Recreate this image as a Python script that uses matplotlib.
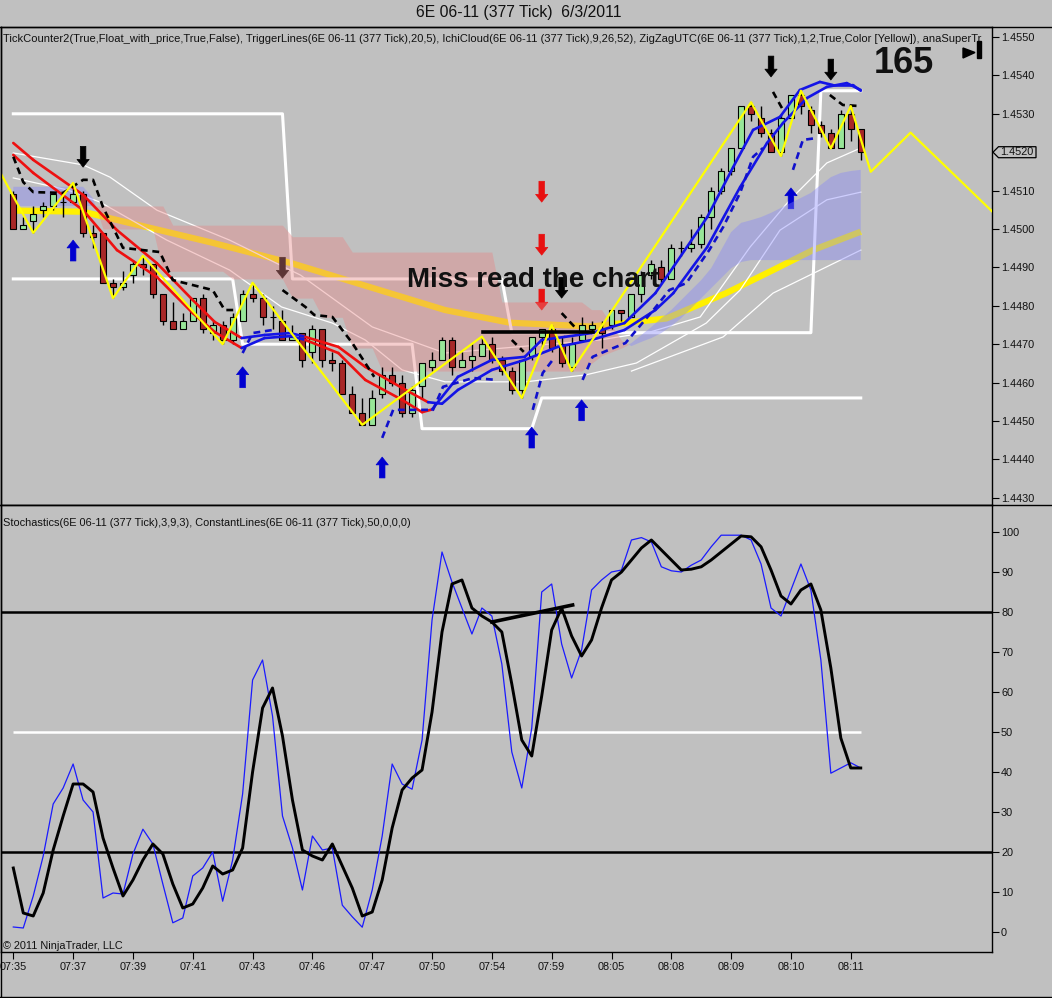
import numpy as np
import matplotlib.pyplot as plt
from matplotlib.collections import LineCollection
from matplotlib.lines import Line2D
from matplotlib.patches import Polygon

plt.rcParams['font.family'] = ['Liberation Sans', 'DejaVu Sans']

# x axis labels, one every 6 bars
time_labels = ['07:35', '07:37', '07:39', '07:41', '07:43', '07:46', '07:47', '07:50',
               '07:54', '07:59', '08:05', '08:08', '08:09', '08:10', '08:11']

# 6E 06-11, 377 tick bars
opens = [1.4509, 1.4500, 1.4502, 1.4505, 1.4506, 1.4507, 1.4507, 1.4509, 1.4499, 1.4499,
         1.4486, 1.4485, 1.4488, 1.4491, 1.4491, 1.4483, 1.4476, 1.4474, 1.4476, 1.4482,
         1.4473, 1.4475, 1.4471, 1.4476, 1.4483, 1.4482, 1.4477, 1.4476, 1.4471, 1.4473,
         1.4468, 1.4474, 1.4466, 1.4465, 1.4457, 1.4452, 1.4449, 1.4457, 1.4462, 1.4460,
         1.4452, 1.4459, 1.4464, 1.4466, 1.4471, 1.4464, 1.4466, 1.4467, 1.4470, 1.4466,
         1.4463, 1.4458, 1.4467, 1.4472, 1.4474, 1.4470, 1.4464, 1.4471, 1.4474, 1.4474,
         1.4475, 1.4479, 1.4477, 1.4483, 1.4488, 1.4490, 1.4487, 1.4495, 1.4495, 1.4496,
         1.4503, 1.4510, 1.4515, 1.4521, 1.4532, 1.4529, 1.4525, 1.4520, 1.4529, 1.4535,
         1.4531, 1.4527, 1.4525, 1.4521, 1.4530, 1.4526]
highs = [1.4510, 1.4503, 1.4506, 1.4507, 1.4509, 1.4509, 1.4512, 1.4510, 1.4501, 1.4499,
         1.4487, 1.4489, 1.4492, 1.4493, 1.4491, 1.4483, 1.4481, 1.4478, 1.4482, 1.4483,
         1.4476, 1.4476, 1.4478, 1.4484, 1.4486, 1.4483, 1.4480, 1.4479, 1.4475, 1.4473,
         1.4475, 1.4474, 1.4468, 1.4466, 1.4459, 1.4456, 1.4458, 1.4464, 1.4464, 1.4462,
         1.4459, 1.4465, 1.4468, 1.4472, 1.4472, 1.4468, 1.4470, 1.4472, 1.4472, 1.4467,
         1.4464, 1.4466, 1.4472, 1.4474, 1.4475, 1.4472, 1.4472, 1.4477, 1.4476, 1.4476,
         1.4479, 1.4479, 1.4483, 1.4489, 1.4492, 1.4492, 1.4496, 1.4497, 1.4500, 1.4504,
         1.4511, 1.4516, 1.4521, 1.4532, 1.4533, 1.4532, 1.4526, 1.4530, 1.4535, 1.4536,
         1.4532, 1.4528, 1.4526, 1.4531, 1.4532, 1.4526]
lows = [1.4500, 1.4500, 1.4499, 1.4503, 1.4505, 1.4503, 1.4507, 1.4498, 1.4495, 1.4486,
        1.4482, 1.4484, 1.4486, 1.4488, 1.4482, 1.4475, 1.4474, 1.4474, 1.4476, 1.4473,
        1.4471, 1.4470, 1.4470, 1.4476, 1.4481, 1.4475, 1.4474, 1.4471, 1.4471, 1.4464,
        1.4465, 1.4464, 1.4463, 1.4457, 1.4452, 1.4449, 1.4449, 1.4456, 1.4459, 1.4451,
        1.4451, 1.4456, 1.4463, 1.4466, 1.4462, 1.4464, 1.4463, 1.4467, 1.4465, 1.4462,
        1.4457, 1.4456, 1.4466, 1.4469, 1.4468, 1.4464, 1.4463, 1.4471, 1.4473, 1.4469,
        1.4474, 1.4476, 1.4477, 1.4481, 1.4487, 1.4486, 1.4487, 1.4493, 1.4494, 1.4495,
        1.4500, 1.4509, 1.4514, 1.4521, 1.4528, 1.4524, 1.4520, 1.4519, 1.4529, 1.4530,
        1.4525, 1.4524, 1.4521, 1.4521, 1.4523, 1.4518]
closes = [1.4500, 1.4501, 1.4504, 1.4506, 1.4509, 1.4507, 1.4509, 1.4499, 1.4498, 1.4486,
          1.4485, 1.4486, 1.4491, 1.4490, 1.4483, 1.4476, 1.4474, 1.4476, 1.4482, 1.4474,
          1.4475, 1.4471, 1.4477, 1.4483, 1.4482, 1.4477, 1.4477, 1.4471, 1.4472, 1.4466,
          1.4474, 1.4466, 1.4465, 1.4457, 1.4452, 1.4449, 1.4456, 1.4462, 1.4460, 1.4452,
          1.4458, 1.4465, 1.4466, 1.4471, 1.4464, 1.4466, 1.4467, 1.4470, 1.4466, 1.4463,
          1.4458, 1.4466, 1.4472, 1.4474, 1.4469, 1.4465, 1.4470, 1.4475, 1.4475, 1.4473,
          1.4479, 1.4478, 1.4483, 1.4488, 1.4491, 1.4487, 1.4495, 1.4495, 1.4496, 1.4503,
          1.4510, 1.4515, 1.4521, 1.4532, 1.4530, 1.4525, 1.4520, 1.4529, 1.4535, 1.4532,
          1.4527, 1.4525, 1.4521, 1.4530, 1.4526, 1.4520]

# Stochastics(3,9,3)
stoch_k = [1.25, 1, 9, 19, 32, 36, 42, 33, 30, 8.5,
           9.75, 9.5, 19.5, 25.7, 22, 12, 2.3, 3.5, 14, 16,
           20, 7.7, 18, 34.5, 63, 68, 54, 29, 21, 10.5,
           24, 20.5, 21, 6.7, 3.8, 1.2, 10.5, 24, 42, 37,
           35.7, 48, 78, 95, 87.5, 81, 74.5, 81, 79, 67,
           45, 36, 51, 85, 87, 72, 63.5, 70.5, 85.5, 88,
           90, 90.5, 98, 98.6, 97.5, 91.3, 90.3, 90, 91.7, 93,
           96.3, 99.2, 99.2, 99.2, 98, 92, 81, 79, 85.5, 92,
           85.5, 68, 39.7, 41, 42.3, 41]
stoch_d = [16, 4.75, 4, 9.75, 20.5, 29, 37, 37, 35, 23.5,
           16, 9, 13, 18, 22, 19.5, 12, 6, 7, 11,
           16.5, 14.5, 15.5, 21, 40, 56, 61, 49, 33, 20.5,
           19, 18, 22, 16.5, 11, 4, 5, 13, 26, 35.5,
           38.5, 40.5, 55, 75, 87, 88, 81, 79, 77.5, 75,
           62, 48, 44, 59, 75.5, 81, 74, 69, 73, 81,
           88, 90, 93, 96, 98, 95.5, 93, 90.5, 90.7, 91.3,
           93, 95, 97, 99, 98.8, 96.3, 90.5, 84, 82, 85.5,
           87, 80.5, 66, 48.5, 41, 41]

# IchiCloud spans
span_a = [1.4511, 1.4511, 1.4511, 1.4511, 1.4511, 1.4511, 1.4511, 1.4511, 1.4508, 1.4500,
          1.4500, 1.4500, 1.4500, 1.4500, 1.4500, 1.4489, 1.4489, 1.4489, 1.4489, 1.4489,
          1.4489, 1.4489, 1.4487, 1.4487, 1.4487, 1.4487, 1.4487, 1.4487, 1.4482, 1.4482,
          1.4482, 1.4477, 1.4477, 1.4477, 1.4469, 1.4469, 1.4469, 1.4463, 1.4463, 1.4463,
          1.4463, 1.4463, 1.4463, 1.4463, 1.4463, 1.4463, 1.4463, 1.4463, 1.4463, 1.4463,
          1.4463, 1.4463, 1.4463, 1.4463, 1.4463, 1.4463, 1.4463, 1.4463, 1.4465, 1.4467,
          1.4468, 1.4469, 1.44703, 1.44724, 1.44745, 1.44768, 1.44789, 1.44815, 1.44841, 1.44867,
          1.44898, 1.44945, 1.44992, 1.45016, 1.45023, 1.45031, 1.45042, 1.45055, 1.45068, 1.45081,
          1.45094, 1.45115, 1.45135, 1.45146, 1.45151, 1.45154]
span_b = [1.4506, 1.4506, 1.4506, 1.4506, 1.4506, 1.4506, 1.4506, 1.4506, 1.4506, 1.4506,
          1.4506, 1.4506, 1.4506, 1.4506, 1.4506, 1.4506, 1.4501, 1.4501, 1.4501, 1.4501,
          1.4501, 1.4501, 1.4501, 1.4501, 1.4501, 1.4501, 1.4501, 1.4501, 1.4498, 1.4498,
          1.4498, 1.4498, 1.4498, 1.4498, 1.4494, 1.4494, 1.4494, 1.4494, 1.4494, 1.4494,
          1.4494, 1.4494, 1.4494, 1.4494, 1.4494, 1.4494, 1.4494, 1.4494, 1.4494, 1.4481,
          1.4481, 1.4481, 1.4481, 1.4481, 1.4481, 1.4481, 1.4481, 1.4481, 1.4479, 1.4479,
          1.4475, 1.4471, 1.44695, 1.44706, 1.44716, 1.44729, 1.44747, 1.44768, 1.44794, 1.44820,
          1.44846, 1.44872, 1.44898, 1.44914, 1.44919, 1.44919, 1.44919, 1.44919, 1.44919, 1.44919,
          1.44919, 1.44919, 1.44919, 1.44919, 1.44919, 1.44919]

# white resistance / support steps
res_line = [1.4530, 1.4530, 1.4530, 1.4530, 1.4530, 1.4530, 1.4530, 1.4530, 1.4530, 1.4530,
            1.4530, 1.4530, 1.4530, 1.4530, 1.4530, 1.4530, 1.4530, 1.4530, 1.4530, 1.4530,
            1.4530, 1.4530, 1.4530, 1.4530, 1.4530, 1.4530, 1.4530, 1.4530, 1.4487, 1.4487,
            1.4487, 1.4487, 1.4487, 1.4487, 1.4487, 1.4487, 1.4487, 1.4487, 1.4487, 1.4487,
            1.4487, 1.4487, 1.4487, 1.4487, 1.4487, 1.4487, 1.4487, 1.4487, 1.4487, 1.4487,
            1.4473, 1.4473, 1.4473, 1.4473, 1.4473, 1.4473, 1.4473, 1.4473, 1.4473, 1.4473,
            1.4473, 1.4473, 1.4473, 1.4473, 1.4473, 1.4473, 1.4473, 1.4473, 1.4473, 1.4473,
            1.4473, 1.4473, 1.4473, 1.4473, 1.4473, 1.4473, 1.4473, 1.4473, 1.4473, 1.4473,
            1.4473, 1.4536, 1.4536, 1.4536, 1.4536, 1.4536]
sup_line = [1.4487, 1.4487, 1.4487, 1.4487, 1.4487, 1.4487, 1.4487, 1.4487, 1.4487, 1.4487,
            1.4487, 1.4487, 1.4487, 1.4487, 1.4487, 1.4487, 1.4487, 1.4487, 1.4487, 1.4487,
            1.4487, 1.4487, 1.4487, 1.4470, 1.4470, 1.4470, 1.4470, 1.4470, 1.4470, 1.4470,
            1.4470, 1.4470, 1.4470, 1.4470, 1.4470, 1.4470, 1.4470, 1.4470, 1.4470, 1.4470,
            1.4470, 1.4448, 1.4448, 1.4448, 1.4448, 1.4448, 1.4448, 1.4448, 1.4448, 1.4448,
            1.4448, 1.4448, 1.4448, 1.4456, 1.4456, 1.4456, 1.4456, 1.4456, 1.4456, 1.4456,
            1.4456, 1.4456, 1.4456, 1.4456, 1.4456, 1.4456, 1.4456, 1.4456, 1.4456, 1.4456,
            1.4456, 1.4456, 1.4456, 1.4456, 1.4456, 1.4456, 1.4456, 1.4456, 1.4456, 1.4456,
            1.4456, 1.4456, 1.4456, 1.4456, 1.4456, 1.4456]

# thin white lines, (bar, price)
thin_1 = [(0, 1.45198), (7, 1.45167), (9.7, 1.45135), (14.4, 1.45049), (21.7, 1.44971),
          (28.8, 1.44880), (36, 1.44745), (43.3, 1.44677), (52.8, 1.44698), (58.8, 1.44711),
          (63.9, 1.44732), (68.9, 1.44771), (73.9, 1.44953), (77.9, 1.45076), (81.6, 1.45172),
          (85, 1.45211)]
thin_2 = [(0, 1.45133), (5.4, 1.45102), (8.7, 1.45070), (15.4, 1.44971), (21.7, 1.44893),
          (26.9, 1.44797), (32, 1.44755), (35.3, 1.44711), (39, 1.44633), (43.3, 1.44602),
          (51.4, 1.44602), (57.4, 1.44620), (62.5, 1.44651), (69.5, 1.44755), (72.9, 1.44841),
          (76.9, 1.44997), (81.6, 1.45076), (85, 1.45096)]
thin_3 = [(62, 1.4463), (71.2, 1.44719), (76.2, 1.44833), (85, 1.44945)]

# thick yellow line
thick_line = [(0, 1.45048), (7, 1.45045), (10, 1.45026), (15, 1.44995), (20, 1.44964),
              (27.9, 1.44911), (43.3, 1.44789), (49.8, 1.44756), (58, 1.44746), (65.5, 1.44767),
              (71.5, 1.44833), (76.2, 1.44893), (80.2, 1.44945), (85, 1.44993)]

# TriggerLines(20,5)
trig_fast = [(0, 1.45193), (2, 1.45146), (7, 1.45049), (10.4, 1.44945), (14.4, 1.44875),
             (18, 1.44781), (20.2, 1.44732), (22.9, 1.44690), (25.2, 1.44716), (27.8, 1.44721),
             (29.3, 1.44711), (32.6, 1.44677), (35.3, 1.44607), (39, 1.44555), (41, 1.44523),
             (42, 1.44530), (44.6, 1.44615), (48, 1.44659), (51.3, 1.44667), (53, 1.44711),
             (55.3, 1.44719), (58, 1.44729), (61.3, 1.44755), (64.4, 1.44833), (66.2, 1.44901),
             (69.6, 1.45031), (72.2, 1.45161), (74.2, 1.45258), (76.9, 1.45292), (78.9, 1.45362),
             (80.9, 1.45383), (82.2, 1.45375), (84.2, 1.45375), (85, 1.45360)]
trig_slow = [(0, 1.45224), (2, 1.45180), (7, 1.45089), (10.4, 1.44997), (14.4, 1.44911),
             (18, 1.44815), (20.2, 1.44758), (22.9, 1.44716), (25.2, 1.44724), (27.8, 1.44729),
             (29.3, 1.44719), (32.6, 1.44693), (35.3, 1.44641), (39, 1.44586), (41.6, 1.44549),
             (43, 1.44545), (44.6, 1.44581), (48, 1.44633), (51.3, 1.44659), (54.6, 1.44693),
             (58, 1.44711), (61.3, 1.44737), (64.4, 1.44789), (66.2, 1.44833), (69.6, 1.44953),
             (72.9, 1.45109), (75.6, 1.45224), (77.2, 1.45276), (79.6, 1.45341), (81.6, 1.45370),
             (83.6, 1.45380), (85, 1.45362)]
trig_blue_spans = [(22.9, 29.3), (42, 86)]

# super trend, dashed pieces (colour, points)
supertrend = [
    ('black', [(0, 1.45188), (1, 1.45122), (2, 1.45096), (5, 1.45094), (7, 1.45128), (8, 1.45128),
               (9, 1.45057), (11, 1.44951), (14.7, 1.44940), (16, 1.44867), (20, 1.44841),
               (21.2, 1.44789), (22.5, 1.44789)]),
    ('blue', [(23, 1.44677), (24, 1.44729), (26, 1.44737)]),
    ('black', [(27, 1.44841), (29.3, 1.44797), (30.2, 1.44776), (32, 1.44771), (34, 1.44703),
               (36.2, 1.44615)]),
    ('blue', [(37, 1.44456), (38.1, 1.44529), (42.1, 1.44529), (43.1, 1.44589), (46.1, 1.44612),
              (48.5, 1.44607)]),
    ('black', [(50, 1.44711), (51.2, 1.44680)]),
    ('blue', [(52.1, 1.44529), (53.1, 1.44625), (54.1, 1.44659)]),
    ('black', [(55, 1.44781), (56.3, 1.44745)]),
    ('blue', [(57.1, 1.44607), (58.1, 1.44667), (59.7, 1.44685), (61.4, 1.44703), (64.2, 1.44789),
              (65.8, 1.44841), (67.5, 1.44859), (69.8, 1.44945), (71.2, 1.45005), (72.9, 1.45094),
              (74.2, 1.45188), (75.2, 1.45211)]),
    ('black', [(76.2, 1.45357), (77.2, 1.45310)]),
    ('blue', [(78.2, 1.45154), (79.2, 1.45232), (80.6, 1.45237)]),
    ('black', [(81.9, 1.45349), (83.2, 1.45323), (85, 1.45320)]),
]

# ZigZag swing points, last three are the projection
zigzag = [(-2, 1.4518), (2, 1.4499), (6, 1.4512), (10, 1.4482), (13, 1.4493), (21, 1.4470),
          (24, 1.4486), (35, 1.4449), (47, 1.4472), (51, 1.4456), (54, 1.4475), (56, 1.4463),
          (74, 1.4533), (77, 1.4519), (79, 1.4536), (82, 1.4521), (84, 1.4532), (86, 1.45149),
          (90, 1.45251), (100, 1.4500)]

# signal arrows (bar, tip price)
arrows_black = [(7, 1.45161), (27, 1.44872), (55, 1.44820), (76, 1.45396), (82, 1.45388)]
arrows_red = [(53, 1.45070), (53, 1.44932), (53, 1.44789)]
arrows_blue = [(6, 1.44971), (23, 1.44641), (37, 1.44406), (52, 1.44484), (57, 1.44555),
               (78, 1.45107)]

# hand drawn lines
drawn_price_line = [(47.1, 1.44732), (58.1, 1.44732)]
drawn_stoch_line = [(48, 77.5), (56.1, 81.75)]

last_price = 1.4520
price_ticks = [1.4430, 1.4440, 1.4450, 1.4460, 1.4470, 1.4480, 1.4490, 1.4500, 1.4510,
               1.4530, 1.4540, 1.4550]
stoch_ticks = [0, 10, 20, 30, 40, 50, 60, 70, 80, 90, 100]

BG = '#C0C0C0'
W, H = 1052, 998


def fx(x):
    return x / W


def fy(y):
    return 1 - y / H


def xy(pts):
    return [p[0] for p in pts], [p[1] for p in pts]


fig = plt.figure(figsize=(10.52, 9.98), dpi=100, facecolor=BG)
ax1 = fig.add_axes([fx(1), fy(505), (992 - 1) / W, (505 - 27) / H], facecolor=BG)
ax2 = fig.add_axes([fx(1), fy(952), (992 - 1) / W, (952 - 505) / H], facecolor=BG)

xmin, xmax = (1 - 13.3) / 9.97, (992 - 13.3) / 9.97
idx = np.arange(len(opens))

# ---------------- price panel ----------------
ax1.plot(*xy(thick_line), color='#FFF000', lw=4.5, zorder=1.5, solid_capstyle='butt')
for ln in (thin_1, thin_2, thin_3):
    ax1.plot(*xy(ln), color='white', lw=0.9, zorder=1.6)
ax1.plot(idx, res_line, color='white', lw=2.2, zorder=1.7)
ax1.plot(idx, sup_line, color='white', lw=2.2, zorder=1.7)


def arrow(ax, i, p, color, down):
    off = 15 if down else -15
    ax.annotate('', xy=(i, p), xytext=(0, off), textcoords='offset points',
                arrowprops=dict(arrowstyle='simple,head_length=0.7,head_width=1.1,tail_width=0.5',
                                fc=color, ec=color, lw=0.5, shrinkA=0, shrinkB=0,
                                mutation_scale=8), zorder=2.5)


for i, p in arrows_black:
    arrow(ax1, i, p, 'black', True)
for i, p in arrows_red:
    arrow(ax1, i, p, '#E81010', True)
for i, p in arrows_blue:
    arrow(ax1, i, p, '#0000D0', False)

a = np.array(span_a)
b = np.array(span_b)
ax1.fill_between(idx, a, b, where=a >= b, interpolate=True, color=(0.52, 0.52, 0.99),
                 alpha=0.4, lw=0, zorder=3)
ax1.fill_between(idx, a, b, where=a < b, interpolate=True, color=(0.91, 0.52, 0.52),
                 alpha=0.4, lw=0, zorder=3)

o, hi, lo, c = map(np.array, (opens, highs, lows, closes))
ax1.vlines(idx, lo, hi, color='black', lw=1, zorder=4)
body_lo = np.minimum(o, c)
body_h = np.maximum(np.abs(c - o), 0.000012)
body_col = np.where(c >= o, '#98E698', '#A82828')
ax1.bar(idx, body_h, width=0.6, bottom=body_lo, color=body_col, edgecolor='black',
        lw=0.8, zorder=4.5)


def trig_segments(pts):
    segs, cols = [], []
    for p0, p1 in zip(pts[:-1], pts[1:]):
        m = (p0[0] + p1[0]) / 2
        blue = any(s <= m <= e for s, e in trig_blue_spans)
        segs.append([p0, p1])
        cols.append('#1414E6' if blue else '#EE1010')
    return segs, cols


for pts in (trig_slow, trig_fast):
    segs, cols = trig_segments(pts)
    ax1.add_collection(LineCollection(segs, colors=cols, linewidths=1.9, zorder=5,
                                      capstyle='round'))

for col, pts in supertrend:
    ax1.plot(*xy(pts), color='black' if col == 'black' else '#1010CC', lw=1.9,
             dashes=(2.6, 1.8), zorder=5.2)

ax1.plot(*xy(zigzag), color='#FFFF00', lw=1.6, zorder=6)
ax1.plot(*xy(drawn_price_line), color='black', lw=2.6, zorder=6)

ax1.set_xlim(xmin, xmax)
ax1.set_ylim(1.4550 - (505 - 37) / 38400, 1.4550 + (37 - 27) / 38400)
ax1.set_xticks([])
ax1.set_yticks(price_ticks)
ax1.set_yticklabels(['%.4f' % t for t in price_ticks])

# the panel shows this header cut at the price axis
ax1.text(0.002, 1 - (39 - 27) / 478, 'TickCounter2(True,Float_with_price,True,False), '
         'TriggerLines(6E 06-11 (377 Tick),20,5), IchiCloud(6E 06-11 (377 Tick),9,26,52), '
         'ZigZagUTC(6E 06-11 (377 Tick),1,2,True,Color [Yellow]), anaSuperTr',
         transform=ax1.transAxes, fontsize=8.05, va='center', ha='left', color='#111111',
         zorder=7)

# ---------------- stochastics panel ----------------
ax2.axhline(80, color='black', lw=1.8, zorder=2)
ax2.axhline(20, color='black', lw=1.8, zorder=2)
ax2.hlines(50, idx[0], idx[-1], color='white', lw=1.8, zorder=2)
ax2.plot(idx, stoch_k, color='#1A1AFF', lw=0.9, zorder=3)
ax2.plot(idx, stoch_d, color='black', lw=2.1, zorder=4)
ax2.plot(*xy(drawn_stoch_line), color='black', lw=2.6, zorder=5)
ax2.set_xlim(xmin, xmax)
ax2.set_ylim(-5, (932 - 505) / 4)
ax2.set_yticks(stoch_ticks)
ax2.set_yticklabels([str(t) for t in stoch_ticks])
ax2.set_xticks(range(0, 85, 6))
ax2.set_xticklabels(time_labels)
ax2.text(0.002, 1 - (523 - 505) / 447,
         'Stochastics(6E 06-11 (377 Tick),3,9,3), ConstantLines(6E 06-11 (377 Tick),50,0,0,0)',
         transform=ax2.transAxes, fontsize=7.9, va='center', ha='left', color='#111111')

for ax in (ax1, ax2):
    ax.yaxis.tick_right()
    ax.tick_params(axis='y', direction='out', length=5, width=0.8, labelsize=7.8, pad=1.5,
                   colors='black', labelcolor='#111111')
    ax.tick_params(axis='x', direction='out', length=5, width=0.8, labelsize=7.8, pad=2.5,
                   colors='black', labelcolor='#111111')
    for s in ax.spines.values():
        s.set_color('black')
        s.set_linewidth(1)

# ---------------- frame, titles, marks ----------------
for yy in (27, 505, 997):
    fig.add_artist(Line2D([0, 1], [fy(yy), fy(yy)], color='black', lw=1,
                          transform=fig.transFigure))
fig.add_artist(Line2D([fx(0.5), fx(0.5)], [fy(27), fy(997)], color='black', lw=1,
                      transform=fig.transFigure))

fig.text(fx(519), fy(13), '6E 06-11 (377 Tick)  6/3/2011', fontsize=11.3, ha='center',
         va='center', color='#111111')
fig.text(fx(3), fy(946), '\u00a9 2011 NinjaTrader, LLC', fontsize=7.8, ha='left',
         va='center', color='#111111')
fig.text(fx(407), fy(287), 'Miss read the chart', fontsize=20, fontweight='bold',
         ha='left', va='baseline', color='#111111', zorder=10)
fig.text(fx(874), fy(73), '165', fontsize=26, fontweight='bold', ha='left',
         va='baseline', color='#111111')

fig.add_artist(Polygon([(fx(963), fy(48)), (fx(975), fy(52.5)), (fx(963), fy(58))],
                       closed=True, fc='black', ec='black', transform=fig.transFigure))
fig.add_artist(Polygon([(fx(976.5), fy(41)), (fx(980.5), fy(41)), (fx(980.5), fy(58)),
                        (fx(976.5), fy(58))], closed=True, fc='black', ec='black',
                       transform=fig.transFigure))

tag_y = 37 + (1.4550 - last_price) * 38400
fig.add_artist(Polygon([(fx(993), fy(tag_y)), (fx(998.5), fy(tag_y - 5.5)),
                        (fx(1036), fy(tag_y - 5.5)), (fx(1036), fy(tag_y + 5.5)),
                        (fx(998.5), fy(tag_y + 5.5))], closed=True, fc=BG, ec='black',
                       lw=0.9, transform=fig.transFigure))
fig.text(fx(1000), fy(tag_y), '%.4f' % last_price, fontsize=7.8, ha='left', va='center',
         color='#111111')

fig.savefig('out.png', dpi=100, facecolor=BG)
